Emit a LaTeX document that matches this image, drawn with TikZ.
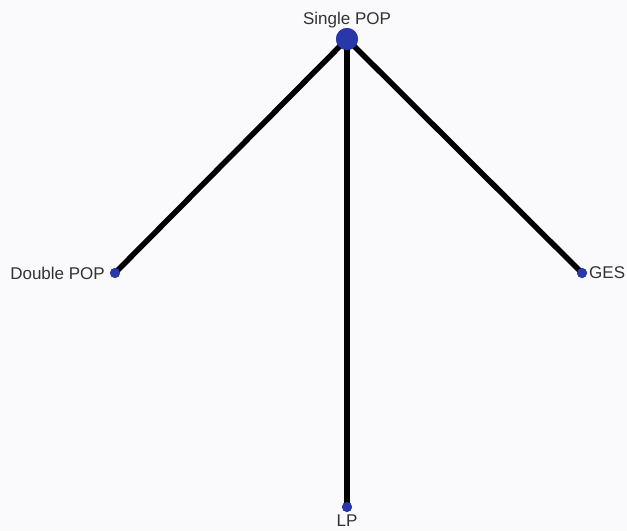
\documentclass[tikz,border=0pt]{standalone}
\usepackage{fontspec}
\setmainfont{Liberation Sans}
\definecolor{bgc}{RGB}{250,250,252}
\definecolor{dotc}{RGB}{40,55,170}
\definecolor{txtc}{RGB}{50,50,50}
\begin{document}
\begin{tikzpicture}[x=1pt,y=-1pt,
  edge/.style={line width=5.5pt,black},
  bigdot/.style={circle,fill=dotc,inner sep=0pt,minimum size=22pt},
  smalldot/.style={circle,fill=dotc,inner sep=0pt,minimum size=10pt},
  lbl/.style={text=txtc,font=\fontsize{17}{17}\selectfont,inner sep=0pt}]
\fill[bgc] (0,0) rectangle (627,531);
\useasboundingbox (0,0) rectangle (627,531);
\node[bigdot] (sp) at (347,39) {};
\node[smalldot] (dp) at (115,273) {};
\node[smalldot] (ges) at (582,273) {};
\node[smalldot] (lp) at (347,507) {};
\draw[edge] (sp.center) -- (dp.center);
\draw[edge] (sp.center) -- (ges.center);
\draw[edge] (sp.center) -- (lp.center);
\node[bigdot] at (sp) {};
\node[smalldot] at (dp) {};
\node[smalldot] at (ges) {};
\node[smalldot] at (lp) {};
\node[lbl,anchor=south] (spl) at (347,28) {Single POP};
\node[lbl,anchor=east] (dpl) at (105,273) {Double POP};
\node[lbl,anchor=west] (gesl) at (589,273) {GES};
\node[lbl,anchor=north] (lpl) at (347,515) {LP};
\end{tikzpicture}
\end{document}
